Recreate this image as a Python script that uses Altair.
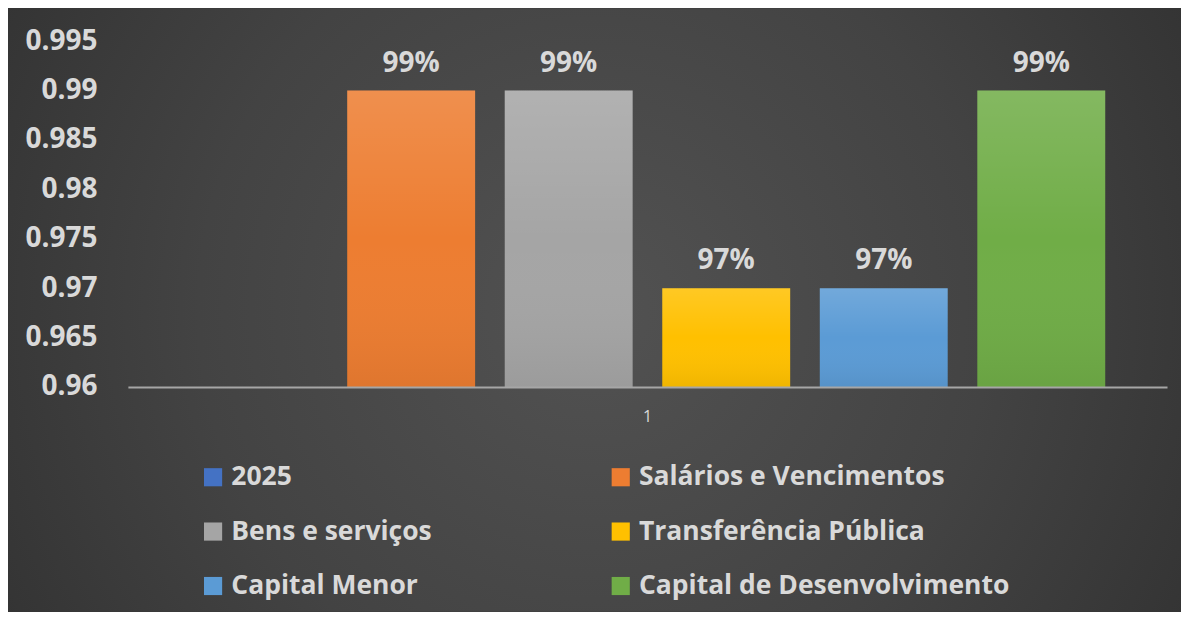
import altair as alt
import pandas as pd

series = ["2025", "Salários e Vencimentos", "Bens e serviços",
          "Transferência Pública", "Capital Menor", "Capital de Desenvolvimento"]
values = [None, 0.99, 0.99, 0.97, 0.97, 0.99]
colors = ["#4472C4", "#ED7D31", "#A5A5A5", "#FFC000", "#5B9BD5", "#70AD47"]
category = ["1"] * len(series)
y_ticks = [0.96, 0.965, 0.97, 0.975, 0.98, 0.985, 0.99, 0.995]

df = pd.DataFrame({"cat": category, "series": series, "value": values})

FONT = "Open Sans"
TXT = "#d9d9d9"
W, H = 1040, 346
PAD = {"left": 120, "top": 33, "right": 14, "bottom": 225}

bg_grad = alt.Gradient(
    gradient="radial", x1=0.5, y1=0.5, x2=0.5, y2=0.5, r1=0, r2=0.75,
    stops=[alt.GradientStop(color="#525252", offset=0),
           alt.GradientStop(color="#434343", offset=0.45),
           alt.GradientStop(color="#282828", offset=1)])

bg = alt.Chart(pd.DataFrame({"a": [0]})).mark_rect(fill=bg_grad).encode(
    x=alt.value(-PAD["left"]), x2=alt.value(W + PAD["right"]),
    y=alt.value(-PAD["top"]), y2=alt.value(H + PAD["bottom"]))

base = alt.Chart(df).encode(
    x=alt.X("cat:N", title=None,
            scale=alt.Scale(paddingInner=0, paddingOuter=0.0497),
            axis=alt.Axis(labelAngle=0, ticks=False, tickSize=0, labelPadding=22,
                          labelFontSize=16, labelColor=TXT, labelFont=FONT,
                          domainColor="#a6a6a6", domainWidth=2, zindex=1)),
    xOffset=alt.XOffset("series:N", sort=series,
                        scale=alt.Scale(domain=series, paddingInner=0.188, paddingOuter=0.094)),
)

bars = base.mark_bar().encode(
    y=alt.Y("value:Q", title=None,
            scale=alt.Scale(domain=[0.96, 0.995], zero=False, nice=False),
            axis=alt.Axis(values=y_ticks, format=".3~f", domain=False, ticks=False,
                          tickSize=0, grid=False, labelPadding=31, labelFontSize=28,
                          labelFont=FONT, labelFontWeight="bold", labelColor=TXT, zindex=1)),
    y2=alt.datum(0.96),
    color=alt.Color("series:N", sort=series,
                    scale=alt.Scale(domain=series, range=colors),
                    legend=alt.Legend(title=None, orient="none", legendX=72, legendY=423,
                                      direction="horizontal",
                                      columns=2, symbolType="square", symbolSize=330,
                                      symbolStrokeWidth=0, labelFontSize=26.5, labelFont=FONT,
                                      labelFontWeight="bold", labelColor=TXT, labelLimit=0,
                                      labelOffset=5, rowPadding=27.5, columnPadding=175,
                                      zindex=1)),
)

shade = alt.Gradient(
    gradient="linear", x1=0, y1=0, x2=0, y2=1,
    stops=[alt.GradientStop(color="rgba(255,255,255,0.14)", offset=0),
           alt.GradientStop(color="rgba(255,255,255,0.0)", offset=0.5),
           alt.GradientStop(color="rgba(0,0,0,0.06)", offset=1)])

overlay = base.mark_bar(fill=shade).encode(
    y=alt.Y("value:Q"), y2=alt.datum(0.96))

labels = base.mark_text(dy=-13, baseline="bottom", font=FONT, fontSize=28,
                        fontWeight="bold", color=TXT).encode(
    y=alt.Y("value:Q"), text=alt.Text("value:Q", format=".0%"))

chart = alt.layer(bg, bars, overlay, labels).properties(
    width=W, height=H, padding=PAD,
    autosize=alt.AutoSizeParams(type="none"),
    background="#333333",
).configure_view(stroke=None)

chart.save("out.html", embed_options={"renderer": "svg", "actions": False})
